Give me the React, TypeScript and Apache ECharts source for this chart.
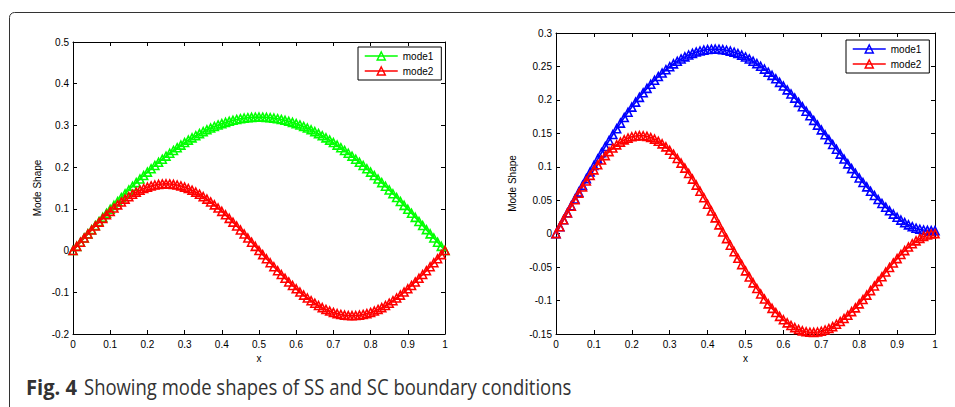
import React, { useEffect, useRef } from "react";
import * as echarts from "echarts";

// sample positions along the beam
const xs = [
  0, 0.01, 0.02, 0.03, 0.04, 0.05, 0.06, 0.07, 0.08, 0.09,
  0.1, 0.11, 0.12, 0.13, 0.14, 0.15, 0.16, 0.17, 0.18, 0.19,
  0.2, 0.21, 0.22, 0.23, 0.24, 0.25, 0.26, 0.27, 0.28, 0.29,
  0.3, 0.31, 0.32, 0.33, 0.34, 0.35, 0.36, 0.37, 0.38, 0.39,
  0.4, 0.41, 0.42, 0.43, 0.44, 0.45, 0.46, 0.47, 0.48, 0.49,
  0.5, 0.51, 0.52, 0.53, 0.54, 0.55, 0.56, 0.57, 0.58, 0.59,
  0.6, 0.61, 0.62, 0.63, 0.64, 0.65, 0.66, 0.67, 0.68, 0.69,
  0.7, 0.71, 0.72, 0.73, 0.74, 0.75, 0.76, 0.77, 0.78, 0.79,
  0.8, 0.81, 0.82, 0.83, 0.84, 0.85, 0.86, 0.87, 0.88, 0.89,
  0.9, 0.91, 0.92, 0.93, 0.94, 0.95, 0.96, 0.97, 0.98, 0.99, 1,
];

// SS boundary condition (left panel)
const ssMode1 = [
  0, 0.0101, 0.0201, 0.0301, 0.0401, 0.0501, 0.06, 0.0698, 0.0796, 0.0893,
  0.0989, 0.1084, 0.1178, 0.1271, 0.1362, 0.1453, 0.1542, 0.1629, 0.1715, 0.1799,
  0.1881, 0.1961, 0.204, 0.2116, 0.2191, 0.2263, 0.2333, 0.24, 0.2466, 0.2529,
  0.2589, 0.2647, 0.2702, 0.2754, 0.2804, 0.2851, 0.2895, 0.2937, 0.2975, 0.3011,
  0.3043, 0.3073, 0.3099, 0.3123, 0.3143, 0.3161, 0.3175, 0.3186, 0.3194, 0.3198,
  0.32, 0.3198, 0.3194, 0.3186, 0.3175, 0.3161, 0.3143, 0.3123, 0.3099, 0.3073,
  0.3043, 0.3011, 0.2975, 0.2937, 0.2895, 0.2851, 0.2804, 0.2754, 0.2702, 0.2647,
  0.2589, 0.2529, 0.2466, 0.24, 0.2333, 0.2263, 0.2191, 0.2116, 0.204, 0.1961,
  0.1881, 0.1799, 0.1715, 0.1629, 0.1542, 0.1453, 0.1362, 0.1271, 0.1178, 0.1084,
  0.0989, 0.0893, 0.0796, 0.0698, 0.06, 0.0501, 0.0401, 0.0301, 0.0201, 0.0101, 0,
];
const ssMode2 = [
  0, 0.01, 0.0201, 0.03, 0.0398, 0.0494, 0.0589, 0.0681, 0.0771, 0.0857,
  0.094, 0.102, 0.1095, 0.1166, 0.1233, 0.1294, 0.1351, 0.1402, 0.1448, 0.1488,
  0.1522, 0.155, 0.1572, 0.1587, 0.1597, 0.16, 0.1597, 0.1587, 0.1572, 0.155,
  0.1522, 0.1488, 0.1448, 0.1402, 0.1351, 0.1294, 0.1233, 0.1166, 0.1095, 0.102,
  0.094, 0.0857, 0.0771, 0.0681, 0.0589, 0.0494, 0.0398, 0.03, 0.0201, 0.01,
  0, -0.0098, -0.0196, -0.0292, -0.0388, -0.0482, -0.0574, -0.0664, -0.0752, -0.0836,
  -0.0917, -0.0994, -0.1068, -0.1137, -0.1202, -0.1262, -0.1317, -0.1367, -0.1412, -0.145,
  -0.1484, -0.1511, -0.1532, -0.1548, -0.1557, -0.156, -0.1557, -0.1548, -0.1532, -0.1511,
  -0.1484, -0.145, -0.1412, -0.1367, -0.1317, -0.1262, -0.1202, -0.1137, -0.1068, -0.0994,
  -0.0917, -0.0836, -0.0752, -0.0664, -0.0574, -0.0482, -0.0388, -0.0292, -0.0196, -0.0098, 0,
];

// SC boundary condition (right panel)
const scMode1 = [
  0, 0.0104, 0.0209, 0.0313, 0.0416, 0.0519, 0.0621, 0.0722, 0.0823, 0.0921,
  0.1019, 0.1115, 0.121, 0.1303, 0.1393, 0.1482, 0.1569, 0.1653, 0.1736, 0.1815,
  0.1892, 0.1966, 0.2038, 0.2106, 0.2172, 0.2234, 0.2293, 0.2349, 0.2401, 0.2451,
  0.2496, 0.2538, 0.2577, 0.2612, 0.2643, 0.2671, 0.2695, 0.2715, 0.2731, 0.2744,
  0.2753, 0.2758, 0.276, 0.2758, 0.2752, 0.2742, 0.2729, 0.2713, 0.2693, 0.2669,
  0.2642, 0.2612, 0.2578, 0.2542, 0.2502, 0.246, 0.2414, 0.2366, 0.2315, 0.2262,
  0.2207, 0.2149, 0.2089, 0.2027, 0.1963, 0.1898, 0.1831, 0.1763, 0.1693, 0.1623,
  0.1551, 0.1479, 0.1407, 0.1334, 0.1262, 0.1189, 0.1116, 0.1044, 0.0973, 0.0903,
  0.0833, 0.0765, 0.0699, 0.0634, 0.0571, 0.051, 0.0452, 0.0396, 0.0342, 0.0292,
  0.0245, 0.0203, 0.0165, 0.0132, 0.0104, 0.0082, 0.0066, 0.0055, 0.0049, 0.0046, 0.0045,
];
const scMode2 = [
  0, 0.0104, 0.0207, 0.0309, 0.041, 0.0508, 0.0604, 0.0697, 0.0787, 0.0872,
  0.0953, 0.103, 0.1101, 0.1167, 0.1227, 0.128, 0.1328, 0.1368, 0.1402, 0.1429,
  0.1449, 0.1461, 0.1466, 0.1464, 0.1454, 0.1437, 0.1413, 0.1381, 0.1343, 0.1298,
  0.1246, 0.1188, 0.1124, 0.1055, 0.098, 0.09, 0.0815, 0.0726, 0.0634, 0.0538,
  0.0439, 0.0338, 0.0236, 0.0131, 0.0026, -0.0074, -0.0173, -0.0271, -0.0368, -0.0463,
  -0.0557, -0.0647, -0.0735, -0.082, -0.0901, -0.0977, -0.105, -0.1117, -0.1179, -0.1236,
  -0.1287, -0.1333, -0.1372, -0.1405, -0.1432, -0.1453, -0.1467, -0.1474, -0.1476, -0.147,
  -0.1459, -0.1441, -0.1418, -0.1389, -0.1354, -0.1314, -0.1269, -0.122, -0.1166, -0.1109,
  -0.1049, -0.0985, -0.0919, -0.0851, -0.0782, -0.0713, -0.0643, -0.0573, -0.0505, -0.0438,
  -0.0373, -0.0311, -0.0253, -0.02, -0.0151, -0.0108, -0.0071, -0.0041, -0.0019, -0.0005, 0,
];

const xTicks = { min: 0, max: 1, interval: 0.1 };
const ssY = { min: -0.2, max: 0.5, interval: 0.1 };
const scY = { min: -0.15, max: 0.3, interval: 0.05 };

const GREEN = "#00ff00";
const RED = "#ff0000";
const BLUE = "#0000ff";
const FONT = "'Liberation Sans', Arial, Helvetica, sans-serif";

const pairs = (ys: number[]) => xs.map((x, i) => [x, ys[i]]);

function axisBase(labels: boolean) {
  return {
    type: "value" as const,
    axisLine: { show: true, onZero: false, lineStyle: { color: "#000", width: 1 } },
    axisTick: { show: true, inside: true, length: 4, lineStyle: { color: "#000", width: 1 } },
    axisLabel: { show: labels, color: "#000", fontSize: 10, fontFamily: FONT },
    splitLine: { show: false },
  };
}

function makeSeries(name: string, color: string, ys: number[], xi: number, yi: number) {
  return {
    type: "line",
    name,
    xAxisIndex: xi,
    yAxisIndex: yi,
    data: pairs(ys),
    symbol: "triangle",
    symbolSize: 8,
    showAllSymbol: true,
    lineStyle: { color, width: 1.6 },
    itemStyle: { color: "transparent", borderColor: color, borderWidth: 1.6 },
    emphasis: { disabled: true },
  };
}

function legendItem(name: string, color: string) {
  return {
    name,
    itemStyle: { color: "transparent", borderColor: color, borderWidth: 1.5 },
    lineStyle: { color, width: 1.5 },
  };
}

export default function App() {
  const ref = useRef<HTMLDivElement>(null);
  useEffect(() => {
    if (!ref.current) return;
    const chart = echarts.init(ref.current, null, { renderer: "svg" });
    const grids = [
      { left: 73, top: 42, width: 372, height: 292 },
      { left: 556, top: 33, width: 379, height: 301 },
    ];
    const legendCommon = {
      orient: "vertical",
      width: 80,
      backgroundColor: "#fff",
      borderColor: "#000",
      borderWidth: 1,
      borderRadius: 0,
      padding: [4, 8, 4, 6],
      itemGap: 5,
      itemWidth: 33,
      itemHeight: 10,
      selectedMode: false,
      textStyle: { fontSize: 10, color: "#000", fontFamily: FONT },
      formatter: (n: string) => n.trim(),
    };
    const nameStyle = { color: "#000", fontSize: 10, fontFamily: FONT };
    chart.setOption({
      animation: false,
      textStyle: { fontFamily: FONT },
      grid: grids.map((g) => ({ ...g, outerBoundsMode: "none", containLabel: false })),
      xAxis: [
        { ...axisBase(true), gridIndex: 0, position: "bottom", ...xTicks, name: "x", nameLocation: "middle", nameGap: 17, nameTextStyle: nameStyle, axisLabel: { ...axisBase(true).axisLabel, margin: 5 } },
        { ...axisBase(false), gridIndex: 0, position: "top", ...xTicks },
        { ...axisBase(true), gridIndex: 1, position: "bottom", ...xTicks, name: "x", nameLocation: "middle", nameGap: 17, nameTextStyle: nameStyle, axisLabel: { ...axisBase(true).axisLabel, margin: 5 } },
        { ...axisBase(false), gridIndex: 1, position: "top", ...xTicks },
      ],
      yAxis: [
        { ...axisBase(true), gridIndex: 0, position: "left", ...ssY, name: "Mode Shape", nameLocation: "middle", nameGap: 31, nameTextStyle: nameStyle, axisLabel: { ...axisBase(true).axisLabel, margin: 4 } },
        { ...axisBase(false), gridIndex: 0, position: "right", ...ssY },
        { ...axisBase(true), gridIndex: 1, position: "left", ...scY, name: "Mode Shape", nameLocation: "middle", nameGap: 39, nameTextStyle: nameStyle, axisLabel: { ...axisBase(true).axisLabel, margin: 4 } },
        { ...axisBase(false), gridIndex: 1, position: "right", ...scY },
      ],
      legend: [
        { ...legendCommon, left: 358, top: 47, data: [legendItem("mode1", GREEN), legendItem("mode2", RED)] },
        { ...legendCommon, left: 846, top: 40, data: [legendItem("mode1 ", BLUE), legendItem("mode2 ", RED)] },
      ],
      series: [
        makeSeries("mode1", GREEN, ssMode1, 0, 0),
        makeSeries("mode2", RED, ssMode2, 0, 0),
        makeSeries("mode1 ", BLUE, scMode1, 2, 2),
        makeSeries("mode2 ", RED, scMode2, 2, 2),
      ],
      graphic: [
        {
          type: "rect",
          shape: { x: 9.5, y: 12.5, width: 1000, height: 500, r: 5 },
          style: { fill: "none", stroke: "#333", lineWidth: 1 },
          silent: true,
        },
        {
          type: "text",
          x: 26,
          y: 387,
          scaleX: 0.96,
          style: { text: "Fig. 4", fontFamily: "'Open Sans', sans-serif", fontWeight: "bold", fontSize: 21, fill: "#333", verticalAlign: "middle" },
        },
        {
          type: "text",
          x: 84,
          y: 387,
          scaleX: 0.88,
          style: { text: "Showing mode shapes of SS and SC boundary conditions", fontFamily: "'Open Sans', sans-serif", fontSize: 21, fill: "#333", verticalAlign: "middle" },
        },
      ],
    });
    return () => chart.dispose();
  }, []);
  return <div ref={ref} style={{ position: "absolute", left: 0, top: 0, width: 955, height: 407 }} />;
}
